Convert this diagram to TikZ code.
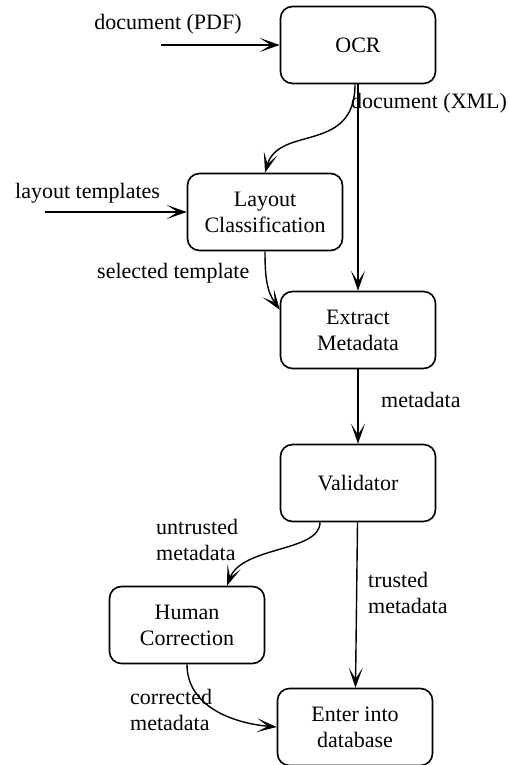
\documentclass[tikz,border=0pt]{standalone}
\usepackage{fontspec}
\setmainfont{Liberation Serif}
\usetikzlibrary{arrows.meta,positioning}

\begin{document}
\begin{tikzpicture}[
  font=\fontsize{22}{26}\selectfont,
  n/.style={draw, rounded corners=12pt, align=center, line width=1.6pt,
            minimum width=155pt, minimum height=77pt, inner sep=2pt},
  e/.style={-{Stealth[length=20pt,width=14pt,inset=11pt]}, line width=1.4pt},
  lbl/.style={inner sep=0pt, align=left}]

\useasboundingbox (0pt,0pt) rectangle (509pt,-765pt);

% boxes, centres in pt from the top left corner
\node[n] (ocr) at (358pt,-45pt)  {OCR};
\node[n] (lay) at (265pt,-212pt) {Layout\\Classification};
\node[n] (ext) at (358pt,-330pt) {Extract\\Metadata};
\node[n] (val) at (358pt,-483pt) {Validator};
\node[n] (hum) at (187pt,-625pt) {Human\\Correction};
\node[n] (ent) at (355pt,-727pt) {Enter into\\database};

% free ends of the two inputs
\coordinate (pdfin) at (161pt,-45pt);
\coordinate (tplin) at (45pt,-212pt);

\draw[e] (pdfin) -- (ocr);
\draw[e] (tplin) -- (lay);
\draw[e] ([xshift=-3pt]ocr.south) .. controls +(0,-70pt) and +(14pt,48pt) .. (lay.north);
\draw[e] (ocr) -- (ext);
\draw[e] (lay) to[out=-90, in=125] ([yshift=-19pt]ext.north west);
\draw[e] (ext) -- (val);
\draw[e] ([xshift=-38pt]val.south) .. controls +(0,-30pt) and +(15pt,40pt) .. ([xshift=40pt]hum.north);
\draw[e] (val) -- (ent);
\draw[e] (hum) to[out=-90, in=175] (ent.west);

% ----------------------------------------------------------- labels ---
\node[lbl, anchor=base] (pdf) at (168pt,-30pt) {document (PDF)};
\node[lbl, anchor=base west] (xml) at (351pt,-109pt) {document (XML)};
\node[lbl, anchor=base west] (tpl) at (15pt,-198pt) {layout templates};
\node[lbl, anchor=base west] (sel) at (97pt,-278pt) {selected template};
\node[lbl, anchor=base west] (md) at (381pt,-407pt) {metadata};
\node[lbl, anchor=north west] (unt) at (156pt,-519pt) {untrusted\\metadata};
\node[lbl, anchor=north west] (tru) at (368pt,-572pt) {trusted\\metadata};
\node[lbl, anchor=north west] (cor) at (130pt,-689pt) {corrected\\metadata};

\end{tikzpicture}
\end{document}
